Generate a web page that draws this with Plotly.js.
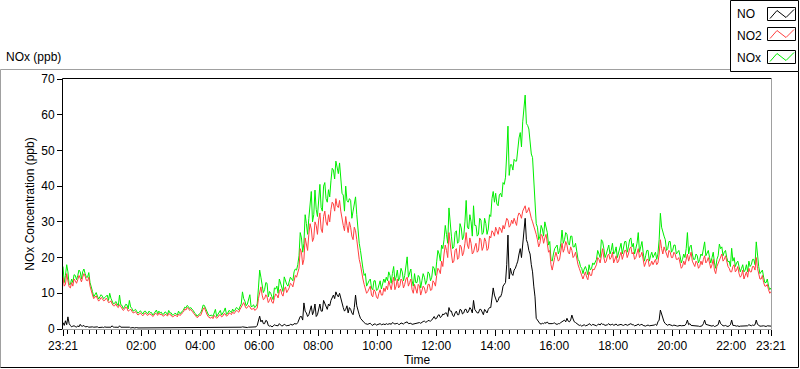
<!DOCTYPE html>
<html>
<head>
<meta charset="utf-8">
<script src="https://cdn.plot.ly/plotly-3.0.1.min.js"></script>
<style>html,body{margin:0;padding:0;background:#fff;}#chart{width:800px;height:369px;}</style>
</head>
<body>
<div id="chart"></div>
<script>
// ---- DATA (2.5-minute samples, starting 23:21; one row = one hour) ----
const seriesNames = ['NO', 'NO2', 'NOx'];
const startTime = '2000-01-01 23:21:00';
const endTime = '2000-01-02 23:21:00';
const stepMinutes = 2.5;

const noPpb = [
  1.8,1.0, 2.3,1.2, 3.4,1.5, 1.0,0.6, 0.8,0.9, 0.7,0.5, 0.9,0.6, 1.3,0.8, 0.8,1.0, 0.6,0.7, 0.7,0.5, 0.6,0.6,
  0.6,0.5, 0.5,0.7, 0.6,0.4, 0.5,0.6, 0.5,0.4, 0.6,0.5, 0.5,0.4, 0.6,0.5, 0.9,0.5, 0.5,0.6, 0.5,0.4, 0.9,0.5,
  0.5,0.4, 0.6,0.4, 0.4,0.5, 0.5,0.3, 0.4,0.4, 0.3,0.4, 0.4,0.3, 0.3,0.4, 0.3,0.3, 0.4,0.3, 0.3,0.4, 0.4,0.3,
  0.4,0.3, 0.3,0.4, 0.5,0.3, 0.4,0.4, 0.3,0.3, 0.4,0.5, 0.3,0.3, 0.5,0.4, 0.4,0.3, 0.3,0.4, 0.3,0.3, 0.4,0.4,
  0.3,0.4, 0.4,0.3, 0.4,0.5, 0.5,0.4, 0.4,0.3, 0.3,0.4, 0.3,0.3, 0.4,0.3, 0.3,0.4, 0.5,0.4, 0.4,0.3, 0.3,0.3,
  0.3,0.3, 0.3,0.4, 0.4,0.3, 0.3,0.4, 0.3,0.3, 0.4,0.4, 0.3,0.3, 0.4,0.5, 0.5,0.4, 0.4,0.4, 0.5,0.5, 0.4,0.4,
  0.4,0.5, 0.6,0.5, 0.5,0.4, 0.4,0.5, 0.5,0.4, 0.4,0.5, 0.5,0.6, 1.0,2.0, 3.6,2.0, 2.5,1.5, 1.5,2.4, 2.2,1.0,
  0.8,0.9, 0.6,0.8, 1.2,1.0, 1.0,0.9, 1.5,1.2, 0.8,1.0, 1.3,1.1, 0.9,1.0, 1.0,1.3, 1.2,1.1, 1.5,1.4, 1.4,1.8,
  2.5,3.5, 3.5,2.5, 7.3,5.0, 4.5,3.5, 4.0,5.5, 6.5,4.0, 5.0,7.0, 3.5,4.0, 6.0,7.0, 5.0,5.0, 8.0,7.0, 6.0,5.5,
  7.0,6.5, 8.0,9.0, 9.5,8.5, 10.4,9.5, 9.0,10.0, 8.5,7.0, 6.0,5.0, 5.5,6.5, 4.5,6.0, 5.5,4.5, 4.0,6.0, 9.5,6.5,
  5.0,4.0, 3.0,2.5, 2.0,1.8, 1.5,1.3, 1.3,1.5, 1.6,1.2, 1.0,1.4, 1.4,1.1, 1.2,1.3, 1.5,1.2, 1.3,1.4, 1.2,1.5,
  1.3,1.5, 1.5,1.3, 1.8,1.6, 1.4,1.5, 1.6,1.3, 1.3,1.7, 1.5,1.4, 1.7,1.8, 2.0,1.5, 1.5,1.6, 1.3,1.4, 1.6,1.5,
  1.7,1.9, 1.8,1.6, 2.0,2.1, 2.2,1.9, 2.0,2.4, 2.3,2.2, 2.5,3.0, 3.5,2.8, 3.0,3.8, 4.0,3.2, 3.5,4.2, 4.0,4.5,
  4.5,3.5, 6.0,5.0, 5.0,3.8, 3.5,4.5, 5.0,4.0, 4.0,5.5, 5.3,4.2, 4.5,5.5, 5.5,4.5, 5.0,6.0, 5.5,4.5, 8.0,5.5,
  5.0,4.5, 4.5,5.5, 5.5,4.5, 4.0,5.5, 5.0,4.5, 5.5,6.0, 6.0,9.0, 11.5,9.5, 8.5,7.5, 8.0,9.0, 9.0,10.0, 12.0,12.5,
  13.0,18.0, 26.3,14.0, 17.0,15.5, 15.0,16.5, 17.0,18.0, 19.0,21.0, 22.5,20.0, 24.0,27.0, 31.0,25.0, 24.0,22.0, 21.0,18.0, 16.0,12.0,
  9.0,3.0, 2.5,1.8, 1.5,1.4, 1.6,1.5, 1.8,1.6, 2.0,1.5, 1.5,1.3, 1.5,1.6, 1.7,1.4, 1.3,1.5, 1.5,1.8, 2.0,2.2,
  2.5,2.0, 3.0,2.2, 2.0,2.5, 3.9,2.8, 2.0,1.8, 1.5,1.3, 1.0,1.1, 0.8,1.0, 1.2,0.9, 0.9,1.1, 1.5,1.2, 1.0,1.3,
  1.2,1.0, 0.9,1.2, 1.4,1.1, 1.6,1.3, 1.3,1.0, 1.0,1.2, 1.5,1.1, 1.2,1.4, 1.0,1.2, 1.4,1.0, 1.1,1.3, 1.3,1.1,
  1.0,1.2, 1.3,1.0, 1.1,1.3, 1.5,1.2, 1.2,0.9, 0.9,1.1, 1.4,1.0, 1.2,1.3, 1.0,0.8, 0.8,1.0, 1.1,0.9, 0.9,1.1,
  1.0,1.1, 1.3,1.0, 2.0,2.5, 5.3,4.0, 3.0,2.0, 1.5,1.2, 1.0,1.3, 1.2,1.0, 0.9,1.1, 1.1,0.9, 0.8,1.0, 1.0,0.9,
  0.9,1.0, 1.0,1.5, 2.5,1.2, 1.5,1.0, 1.0,0.9, 0.8,1.0, 1.0,0.8, 0.7,0.9, 0.9,1.5, 2.5,1.3, 1.2,1.0, 0.9,0.8,
  0.8,1.0, 0.7,0.8, 0.9,1.2, 2.5,1.5, 1.2,0.9, 0.9,1.0, 0.8,0.7, 0.9,1.2, 2.5,1.0, 1.0,0.8, 0.8,0.9, 0.7,0.8,
  0.8,0.9, 0.9,0.8, 1.0,0.9, 1.2,1.0, 0.9,1.1, 1.0,1.2, 2.5,1.3, 1.0,0.8, 0.8,0.9, 0.9,0.8, 0.7,0.9, 0.8,0.7,
  0.8
];

const no2Ppb = [
  14.5,12.0, 12.5,15.5, 13.5,11.8, 11.5,13.0, 12.0,14.0, 13.5,12.8, 13.8,15.0, 14.2,13.2, 14.5,15.5, 14.8,13.6, 13.5,14.5, 12.0,10.5,
  9.5,8.5, 8.8,9.3, 8.5,7.8, 8.2,8.8, 8.5,7.9, 8.0,8.6, 8.3,7.4, 7.5,7.9, 7.0,6.5, 6.5,7.1, 6.3,6.0, 6.8,6.2,
  6.0,5.2, 5.5,6.2, 5.8,5.0, 5.2,5.6, 5.0,4.5, 4.6,4.9, 4.3,3.9, 4.2,4.5, 4.0,3.7, 4.2,4.5, 4.0,3.8, 4.3,4.1,
  4.0,3.5, 3.8,4.4, 4.3,3.8, 4.5,4.0, 4.2,3.7, 3.6,4.1, 4.0,3.6, 4.4,4.0, 3.9,3.4, 3.5,3.9, 3.8,3.4, 4.2,3.8,
  4.0,4.5, 4.8,5.6, 5.3,6.0, 5.8,5.2, 5.5,5.0, 4.6,4.0, 3.6,3.2, 3.4,3.9, 3.8,4.8, 5.6,6.0, 4.8,4.2, 3.5,3.2,
  3.0,3.4, 2.9,3.8, 3.5,3.0, 3.3,3.9, 4.0,3.4, 3.6,4.3, 4.2,3.6, 3.8,4.5, 4.4,4.0, 4.8,4.3, 4.6,5.2, 5.0,4.7,
  5.5,6.2, 6.8,7.4, 6.5,5.8, 6.0,6.6, 6.2,5.6, 5.5,5.9, 5.2,5.5, 5.8,8.5, 10.5,11.8, 9.5,8.2, 8.5,9.6, 9.0,7.4,
  8.0,8.9, 7.5,7.2, 8.8,9.8, 9.5,8.7, 10.5,11.2, 9.8,9.2, 11.0,11.8, 10.2,10.8, 11.5,12.8, 12.5,11.8, 13.8,15.0, 14.5,15.8,
  17.0,22.5, 21.5,18.0, 19.5,25.5, 24.0,22.0, 26.5,29.5, 28.0,24.5, 25.5,30.0, 29.0,26.5, 30.5,32.5, 28.0,27.0, 31.5,33.0, 30.0,29.0,
  32.0,30.0, 33.5,35.5, 35.0,33.0, 36.5,34.5, 34.0,36.0, 33.0,30.5, 29.0,27.5, 31.5,29.0, 27.0,30.0, 28.5,26.0, 25.0,28.5, 27.5,25.0,
  22.0,19.5, 18.0,15.5, 14.0,12.5, 11.5,10.0, 10.5,11.5, 12.0,9.5, 9.0,11.0, 10.5,9.0, 8.5,10.0, 11.0,9.5, 9.5,11.5, 10.5,12.0,
  11.0,13.5, 12.5,11.0, 13.0,14.5, 11.0,12.0, 14.0,11.5, 12.0,14.0, 13.5,11.5, 12.5,14.0, 14.5,12.0, 13.0,14.0, 11.0,10.0, 12.5,11.0,
  10.0,12.5, 12.0,9.5, 10.5,12.0, 11.5,10.0, 10.5,12.5, 12.5,10.8, 11.0,13.5, 13.0,12.0, 15.0,17.0, 16.5,15.5, 19.0,17.5, 21.0,23.5,
  22.0,20.0, 27.0,23.0, 21.0,18.5, 19.0,22.0, 22.5,19.5, 20.0,23.5, 23.0,20.5, 21.5,24.0, 27.0,23.5, 22.5,25.5, 24.0,21.0, 21.5,23.0,
  24.0,21.5, 22.0,25.5, 25.0,22.0, 23.0,25.5, 24.5,22.0, 22.5,26.0, 25.5,27.5, 27.0,26.0, 28.5,27.5, 26.5,28.5, 28.0,27.0, 29.0,28.0,
  29.5,31.0, 30.5,28.5, 29.0,30.5, 29.5,31.0, 30.0,29.0, 31.5,32.5, 32.0,31.0, 33.0,34.0, 34.5,32.5, 33.0,34.0, 32.0,31.0, 30.0,29.0,
  28.0,26.5, 25.0,23.0, 24.0,26.5, 26.0,24.0, 25.5,26.5, 24.0,21.5, 22.0,18.0, 16.5,19.0, 20.0,21.5, 20.5,19.0, 19.5,22.0, 24.0,21.5,
  22.5,24.5, 23.5,21.5, 21.0,23.0, 22.0,20.0, 20.5,21.5, 19.5,18.0, 17.0,16.0, 15.5,14.0, 15.0,16.0, 14.5,13.8, 16.0,15.0, 15.0,16.8,
  16.5,17.5, 18.0,20.0, 19.5,18.5, 21.0,22.5, 20.0,18.5, 19.0,20.5, 21.0,19.5, 20.0,21.5, 18.5,19.5, 20.5,18.5, 19.0,20.5, 21.5,19.5,
  20.5,22.0, 22.0,20.0, 21.0,22.5, 23.0,21.0, 21.5,19.5, 20.0,21.5, 22.5,20.0, 20.5,21.5, 19.0,17.5, 18.5,19.5, 19.5,17.5, 18.0,19.0,
  18.0,19.0, 19.5,18.0, 18.5,21.0, 25.0,22.5, 21.0,23.0, 22.0,20.5, 20.0,22.0, 21.5,20.0, 20.0,21.5, 21.0,19.5, 19.5,20.0, 18.5,17.0,
  17.5,19.0, 18.0,20.0, 21.0,19.0, 20.5,21.5, 19.0,18.0, 17.5,19.0, 18.5,17.0, 17.5,19.0, 18.0,19.5, 20.5,18.5, 19.0,20.0, 18.0,17.0,
  18.0,19.5, 16.5,15.5, 17.5,18.5, 19.5,20.5, 21.0,19.0, 19.5,20.5, 18.5,17.5, 17.0,16.0, 16.0,17.5, 18.0,16.0, 16.5,17.5, 15.5,14.5,
  15.0,16.5, 14.0,15.0, 16.0,14.5, 17.0,16.0, 16.0,17.5, 17.5,16.5, 20.0,17.0, 15.5,14.0, 14.0,15.0, 13.0,12.0, 12.0,12.5, 11.0,10.0,
  10.5
];

const noxPpb = [
  17.5,13.0, 15.0,18.0, 16.0,12.5, 12.5,14.0, 13.0,15.2, 15.0,13.8, 15.0,16.5, 16.0,14.0, 16.0,16.8, 15.5,14.5, 14.5,15.8, 13.0,11.2,
  10.5,9.0, 9.6,10.2, 9.2,8.4, 9.0,9.6, 9.2,8.5, 8.8,9.3, 9.5,8.0, 10.0,8.6, 7.8,7.0, 7.2,7.7, 7.0,6.5, 9.5,6.8,
  6.6,5.7, 6.2,6.9, 6.8,5.6, 8.0,6.2, 5.8,5.0, 5.2,5.5, 4.9,4.4, 4.8,5.1, 4.6,4.2, 4.9,5.0, 4.5,4.3, 5.0,4.6,
  4.6,3.9, 4.3,5.0, 5.3,4.3, 5.0,4.5, 4.7,4.1, 4.2,4.8, 4.6,4.0, 5.2,4.5, 4.5,3.9, 4.0,4.4, 4.3,3.9, 5.0,4.3,
  4.5,5.0, 5.3,6.1, 5.9,6.6, 6.3,5.7, 6.0,5.5, 5.2,4.5, 4.2,3.6, 3.9,4.4, 4.5,5.4, 6.7,6.6, 5.6,4.8, 4.2,3.7,
  3.8,3.9, 3.5,4.4, 5.5,3.5, 4.0,4.6, 5.2,3.9, 4.3,5.0, 5.9,4.1, 4.4,5.2, 5.0,4.6, 5.6,4.9, 5.3,6.0, 5.8,5.3,
  6.3,7.0, 10.4,8.5, 7.8,6.5, 7.0,8.0, 9.6,6.3, 6.3,6.8, 6.0,6.4, 7.0,11.5, 16.5,14.5, 12.5,10.2, 11.0,13.0, 12.8,9.0,
  10.5,10.0, 9.0,8.2, 11.5,11.2, 12.0,10.0, 14.0,13.0, 11.5,10.5, 14.6,13.2, 12.5,12.0, 13.5,14.5, 14.0,13.5, 16.0,16.8, 16.5,18.0,
  20.5,27.0, 25.5,21.5, 24.0,32.0, 29.5,26.5, 31.0,36.0, 38.5,30.0, 32.0,38.9, 33.5,31.5, 37.0,40.5, 34.0,33.0, 40.0,41.0, 36.5,35.5,
  39.0,37.0, 41.5,45.0, 44.5,42.0, 47.0,44.5, 43.5,46.5, 41.5,38.0, 37.5,33.0, 40.0,36.0, 35.5,36.5, 36.0,31.0, 33.0,35.0, 37.0,32.0,
  27.0,24.0, 22.0,18.5, 17.0,15.0, 15.5,12.0, 13.0,13.5, 14.0,11.5, 11.0,13.5, 13.5,10.8, 11.0,12.5, 13.5,11.2, 12.5,14.0, 13.0,14.5,
  13.5,16.0, 15.0,12.8, 15.5,17.5, 13.5,14.5, 16.5,13.5, 14.5,17.0, 16.0,13.5, 15.0,17.0, 20.2,14.5, 16.0,16.8, 13.5,12.0, 15.5,13.0,
  13.0,15.0, 14.5,11.5, 13.5,15.5, 14.5,12.5, 13.5,16.0, 15.5,13.5, 14.5,17.5, 17.0,15.0, 18.8,22.0, 21.0,19.0, 23.5,22.5, 25.0,29.0,
  26.5,24.0, 33.9,28.5, 26.0,22.5, 23.0,27.0, 27.5,24.0, 24.5,29.5, 28.3,25.0, 26.0,30.0, 36.0,28.5, 28.0,32.0, 30.0,26.0, 34.5,29.0,
  29.0,26.0, 26.5,31.0, 30.5,26.5, 27.0,31.0, 29.5,26.5, 28.0,32.0, 31.5,36.5, 38.5,35.5, 38.0,35.0, 34.5,37.5, 38.0,37.0, 41.0,40.5,
  42.5,49.0, 56.8,43.0, 46.0,46.0, 44.5,47.5, 47.0,47.0, 50.5,53.5, 55.0,51.0, 58.0,61.0, 65.5,57.5, 57.0,56.0, 53.0,49.0, 48.0,41.0,
  37.0,29.5, 28.5,25.0, 26.0,29.0, 28.0,26.0, 30.0,28.5, 27.0,23.5, 24.5,19.5, 19.0,21.0, 22.5,23.0, 23.5,21.0, 22.0,24.0, 27.7,24.0,
  25.0,27.0, 26.5,24.0, 23.5,26.0, 26.0,23.0, 23.0,24.0, 21.5,19.5, 19.0,17.5, 17.0,15.5, 16.8,17.5, 16.5,15.2, 18.0,16.5, 17.0,18.5,
  18.0,19.0, 19.5,22.0, 21.0,20.0, 25.0,24.5, 22.5,20.0, 21.0,22.5, 23.5,21.0, 22.0,24.0, 21.0,21.5, 23.0,20.0, 21.5,23.0, 24.0,21.0,
  23.0,24.5, 24.5,21.5, 23.0,25.0, 25.5,23.0, 24.0,21.0, 22.5,24.0, 27.0,21.5, 23.0,24.5, 21.5,19.0, 20.5,22.0, 22.0,19.0, 20.5,21.5,
  20.0,21.0, 21.5,19.5, 21.0,25.0, 32.4,28.5, 27.0,26.0, 25.0,22.0, 22.5,24.5, 24.5,21.5, 22.0,23.5, 23.5,21.0, 21.5,22.0, 20.5,18.5,
  19.5,21.0, 20.0,22.5, 27.0,21.0, 23.0,23.5, 21.0,19.5, 19.5,21.0, 20.5,18.5, 19.5,21.0, 20.5,22.0, 24.4,20.5, 21.5,22.0, 20.0,18.5,
  20.0,21.5, 18.5,17.0, 19.5,20.5, 23.8,22.5, 23.0,20.5, 21.5,22.0, 20.0,18.8, 19.0,17.5, 22.6,19.0, 20.0,17.5, 18.5,19.0, 17.5,16.0,
  17.0,18.0, 16.0,16.5, 18.0,16.0, 19.0,17.5, 18.0,19.5, 19.5,18.0, 24.4,19.5, 17.5,15.5, 16.0,16.5, 14.5,13.0, 13.0,14.0, 12.0,11.0,
  11.5
];

const xTickTimes = [
  '2000-01-01 23:21:00', '2000-01-02 02:00:00', '2000-01-02 04:00:00', '2000-01-02 06:00:00',
  '2000-01-02 08:00:00', '2000-01-02 10:00:00', '2000-01-02 12:00:00', '2000-01-02 14:00:00',
  '2000-01-02 16:00:00', '2000-01-02 18:00:00', '2000-01-02 20:00:00', '2000-01-02 22:00:00',
  '2000-01-02 23:21:00'
];
const xTickLabels = ['23:21', '02:00', '04:00', '06:00', '08:00', '10:00', '12:00', '14:00',
  '16:00', '18:00', '20:00', '22:00', '23:21'];
const yTickValues = [0, 10, 20, 30, 40, 50, 60, 70];

// ---- helpers ----
const FONT = 'Liberation Sans, Arial, sans-serif';
function parseUTC(s) { return Date.parse(s.replace(' ', 'T') + 'Z'); }
function fmt(ms) { return new Date(ms).toISOString().replace('T', ' ').slice(0, 19); }
const t0 = parseUTC(startTime);
const times = noPpb.map((_, i) => fmt(t0 + i * stepMinutes * 60000));

// plot area in pixels
const PL = 63, PR = 771, PT = 79, PB = 329;
const px = x => (x - PL) / (PR - PL);
const py = y => (PB - y) / (PB - PT);

const colors = { NO: '#000000', NO2: '#ff4040', NOx: '#00ee00' };

const traces = [
  { name: 'NOx', x: times, y: noxPpb, type: 'scatter', mode: 'lines', line: { color: colors.NOx, width: 1 }, hoverinfo: 'skip' },
  { name: 'NO2', x: times, y: no2Ppb, type: 'scatter', mode: 'lines', line: { color: colors.NO2, width: 1 }, hoverinfo: 'skip' },
  { name: 'NO', x: times, y: noPpb, type: 'scatter', mode: 'lines', line: { color: colors.NO, width: 1 }, hoverinfo: 'skip' }
];

function line(x0, y0, x1, y1, color) {
  return { type: 'line', xref: 'paper', yref: 'paper', x0: px(x0), y0: py(y0), x1: px(x1), y1: py(y1),
    line: { color: color, width: 1 }, layer: 'above' };
}

const shapes = [
  // outer frame
  line(0.5, 69.5, 730.5, 69.5, '#a0a0a0'),
  line(0.5, 69.5, 0.5, 367.5, '#a0a0a0'),
  line(0.5, 367.5, 798.5, 367.5, '#000000'),
  line(798.5, 71.5, 798.5, 367.5, '#000000'),
  // plot area border
  line(62.5, 78.5, 771.5, 78.5, '#000000'),
  line(62.5, 78.5, 62.5, 329.5, '#000000'),
  line(771.5, 78.5, 771.5, 329.5, '#a0a0a0'),
  line(62.5, 329.5, 771.5, 329.5, '#a0a0a0'),
  // legend box
  line(730.5, 0.5, 730.5, 71.5, '#000000'),
  line(730.5, 71.5, 798.5, 71.5, '#000000'),
  line(798.5, 0.5, 798.5, 71.5, '#000000'),
  line(730.5, 0.5, 798.5, 0.5, '#000000')
];

const annotations = [
  { text: 'NOx (ppb)', xref: 'paper', yref: 'paper', x: px(4), y: py(57), xanchor: 'left', yanchor: 'middle',
    showarrow: false, font: { family: FONT, size: 12, color: '#000' } }
];

const legendRows = [
  { name: seriesNames[0], color: colors.NO, textY: 13.5, boxTop: 7.5, boxBot: 20.5 },
  { name: seriesNames[1], color: colors.NO2, textY: 35.5, boxTop: 27.5, boxBot: 40.5 },
  { name: seriesNames[2], color: colors.NOx, textY: 58.5, boxTop: 50.5, boxBot: 63.5 }
];
legendRows.forEach(r => {
  annotations.push({ text: r.name, xref: 'paper', yref: 'paper', x: px(735), y: py(r.textY), xanchor: 'left',
    yanchor: 'middle', showarrow: false, font: { family: FONT, size: 12, color: '#000' } });
  shapes.push({ type: 'rect', xref: 'paper', yref: 'paper', x0: px(767.5), x1: px(795.5), y0: py(r.boxTop), y1: py(r.boxBot),
    line: { color: '#000', width: 1 }, fillcolor: '#fff', layer: 'above' });
  const pts = [[770, r.boxBot - 2], [777, r.boxTop + 3], [786, r.boxBot - 3], [794, r.boxTop + 2]];
  const path = 'M' + pts.map(p => px(p[0]) + ',' + py(p[1])).join(' L');
  shapes.push({ type: 'path', xref: 'paper', yref: 'paper', path: path, line: { color: r.color, width: 1 }, layer: 'above' });
});

const layout = {
  width: 800, height: 369,
  margin: { l: PL, r: 800 - PR, t: PT, b: 369 - PB, pad: 0 },
  paper_bgcolor: '#ffffff', plot_bgcolor: '#ffffff',
  showlegend: false,
  font: { family: FONT, size: 12, color: '#000' },
  xaxis: {
    type: 'date', range: [startTime, endTime], autorange: false,
    tickmode: 'array', tickvals: xTickTimes, ticktext: xTickLabels,
    ticks: 'outside', ticklen: 6, tickcolor: '#000', tickwidth: 1,
    showgrid: false, zeroline: false, showline: false,
    tickfont: { family: FONT, size: 12, color: '#000' },
    title: { text: 'Time', standoff: 3, font: { family: FONT, size: 12, color: '#000' } },
    minor: { ticks: 'outside', ticklen: 4, tickcolor: '#000', dtick: 15 * 60000, tick0: '2000-01-02 00:00:00', showgrid: false }
  },
  yaxis: {
    range: [0, 70], autorange: false,
    tickmode: 'array', tickvals: yTickValues,
    ticks: 'outside', ticklen: 5, tickcolor: '#000', tickwidth: 1,
    showgrid: false, zeroline: false, showline: false,
    tickfont: { family: FONT, size: 12, color: '#000' },
    title: { text: 'NOx Concentration (ppb)', standoff: 4, font: { family: FONT, size: 12, color: '#000' } }
  },
  shapes: shapes,
  annotations: annotations
};

Plotly.newPlot('chart', traces, layout, { staticPlot: true, displayModeBar: false });
</script>
</body>
</html>
